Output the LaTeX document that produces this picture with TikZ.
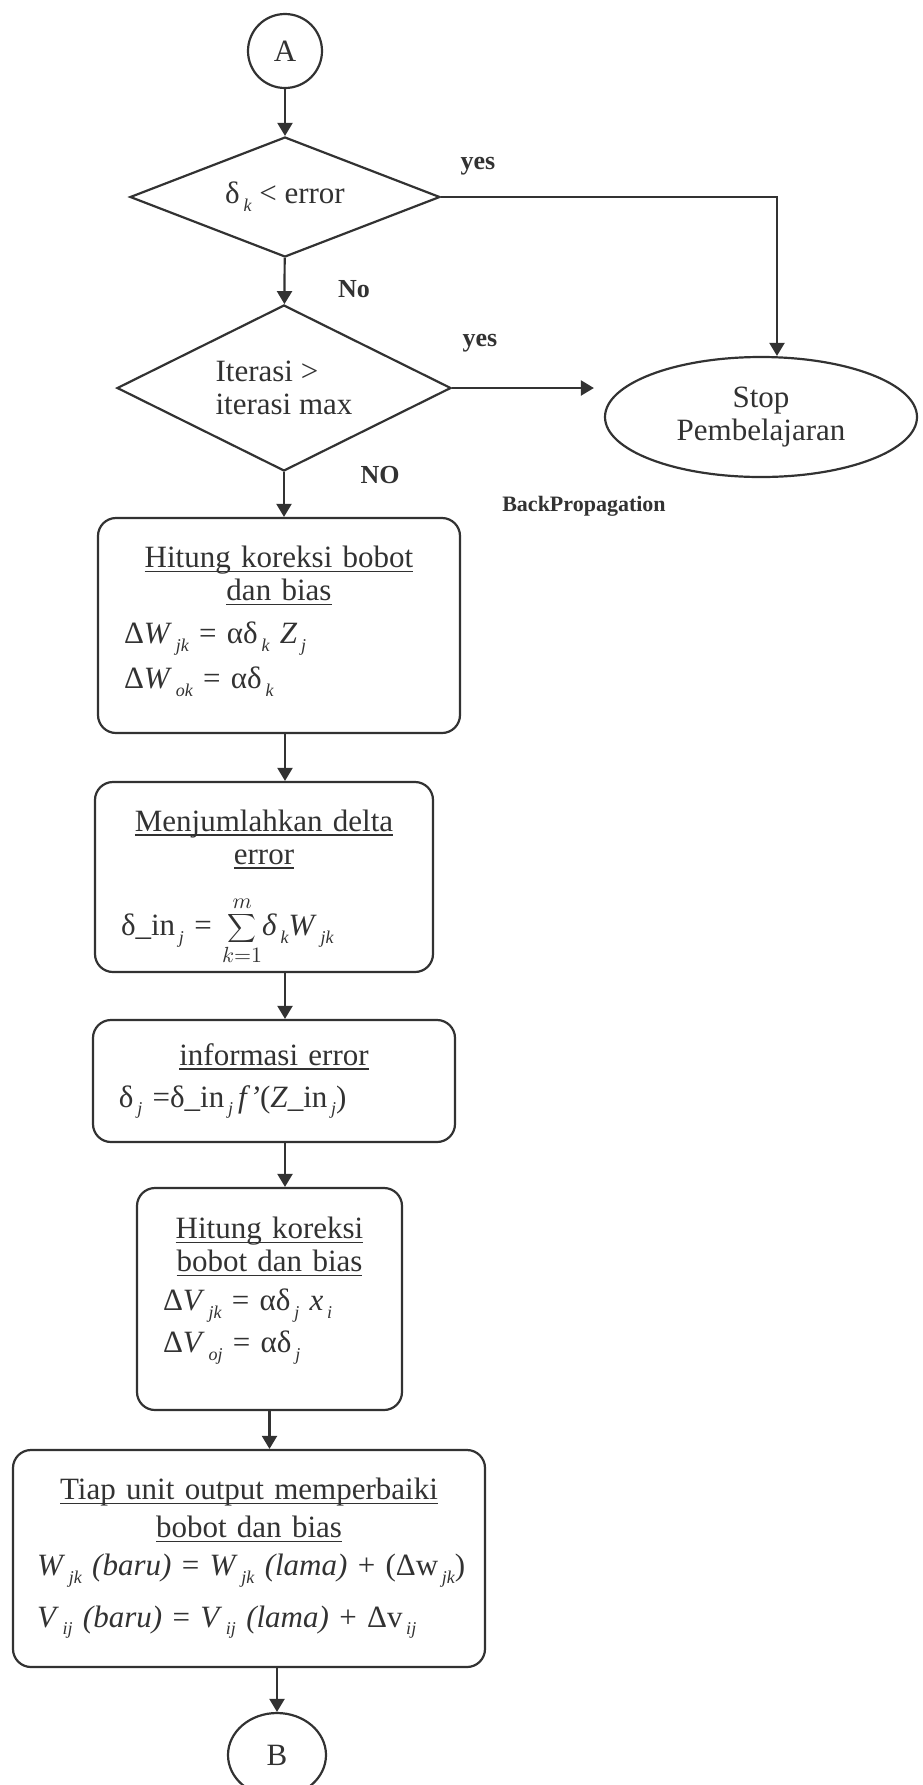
\documentclass[tikz,border=0pt]{standalone}
\usepackage{fontspec}
\setmainfont{Liberation Serif}
\usetikzlibrary{shapes.geometric,arrows.meta}
\definecolor{ink}{RGB}{50,50,50}
\newcommand{\lsub}[1]{\hspace{0.12em}\raisebox{-0.55ex}{\fontsize{9}{9}\selectfont\itshape #1}}
\newcommand{\uln}[1]{\setbox0=\hbox{#1}\rlap{\rule[-2.3pt]{\wd0}{0.8pt}}\box0}
\newcommand{\ttl}[1]{\makebox[\hsize][c]{\uln{#1}}}
\begin{document}
\begin{tikzpicture}[x=0.5pt,y=-0.5pt,
  every node/.style={text=ink},
  base/.style={draw=ink, line width=1.1pt, font=\fontsize{15.5}{16.5}\selectfont},
  conn/.style={base, shape=circle, inner sep=0pt, minimum size=37pt},
  dec/.style={base, shape=diamond, inner sep=0pt, aspect=2.5},
  term/.style={base, shape=ellipse, inner sep=0pt, align=center},
  proc/.style={base, rectangle, rounded corners=9pt, inner xsep=13pt, inner ysep=0pt, align=left},
  lbl/.style={font=\fontsize{13}{14}\selectfont\bfseries},
  arr/.style={draw=ink, line width=1.1pt, -{Triangle[length=6.5pt,width=7.5pt]}}]
\clip (0,0) rectangle (922,1785);

\node[conn] (A) at (285,51) {A};
\node[dec, minimum width=155pt, minimum height=60pt] (d1) at (285,197) {δ\lsub{k} < error};
\node[dec, minimum width=167pt, minimum height=83pt, align=left] (d2) at (284,388) {Iterasi >\\iterasi max};
\node[term, minimum width=156pt, minimum height=60pt] (stop) at (761,417) {Stop\\Pembelajaran};

\node[proc, text width=155pt, minimum height=107.5pt] (b1) at (279,625.5)
  {\ttl{Hitung koreksi bobot}\\ \ttl{dan bias}\\[5pt]
   Δ\textit{W}\lsub{jk} = αδ\lsub{k} \textit{Z}\lsub{j}\\[5pt]
   Δ\textit{W}\lsub{ok} = αδ\lsub{k}\rule[-8pt]{0pt}{1pt}};
\node[proc, text width=143pt, minimum height=95pt] (b2) at (264,877)
  {\rule{0pt}{21pt}\ttl{Menjumlahkan delta}\\ \ttl{error}\\[13pt]
   δ\_in\lsub{j} = $\displaystyle\sum_{k=1}^{m}$\textit{δ}\lsub{k}\textit{W}\lsub{jk}};
\node[proc, text width=155pt, minimum height=61pt] (b3) at (274,1081)
  {\ttl{informasi error}\\[4.5pt]
   δ\lsub{j} =δ\_in\lsub{j}\,\textit{f'}(\textit{Z}\_in\lsub{j})};
\node[proc, text width=106.5pt, minimum height=111pt] (b4) at (269.5,1299)
  {\ttl{Hitung koreksi}\\ \ttl{bobot dan bias}\\[3pt]
   Δ\textit{V}\lsub{jk} = αδ\lsub{j} \textit{x}\lsub{i}\\[3.5pt]
   Δ\textit{V}\lsub{oj} = αδ\lsub{j}\rule[-14pt]{0pt}{1pt}};
\node[proc, text width=212pt, inner xsep=12pt, minimum height=108.5pt] (b5) at (249,1558.5)
  {\ttl{Tiap unit output memperbaiki}\\[2.5pt] \ttl{bobot dan bias}\\[2.5pt]
   \mbox{\textit{W}\lsub{jk} \textit{(baru)} = \textit{W}\lsub{jk} \textit{(lama)} + (Δw\lsub{jk})}\\[8pt]
   \mbox{\textit{V}\lsub{ij} \textit{(baru)} = \textit{V}\lsub{ij} \textit{(lama)} + Δv\lsub{ij}}};
\node[term, minimum width=49pt, minimum height=42pt] (B) at (277,1755) {B};

\node[lbl] (y1) at (478,166) {yes};
\node[lbl] (n1) at (354,289) {No};
\node[lbl] (y2) at (480,343) {yes};
\node[lbl] (n2) at (380,475) {NO};
\node[font=\fontsize{11}{12}\selectfont\bfseries] (bp) at (584,506) {BackPropagation};

\draw[arr] (A) -- (d1);
\draw[arr] (d1) -- (d2);
\draw[arr] (d1.east) -| ([xshift=8pt]stop.north);
\draw[arr, shorten >=5pt] (d2.east) -- (d2.east -| stop.west);
\draw[arr] (d2.south) -- (d2.south |- b1.north);
\draw[arr] (A |- b1.south) -- (A |- b2.north);
\draw[arr] (A |- b2.south) -- (A |- b3.north);
\draw[arr] (A |- b3.south) -- (A |- b4.north);
\draw[arr] (b4.south) -- (b4.south |- b5.north);
\draw[arr] (B.north |- b5.south) -- (B.north);
\end{tikzpicture}
\end{document}
